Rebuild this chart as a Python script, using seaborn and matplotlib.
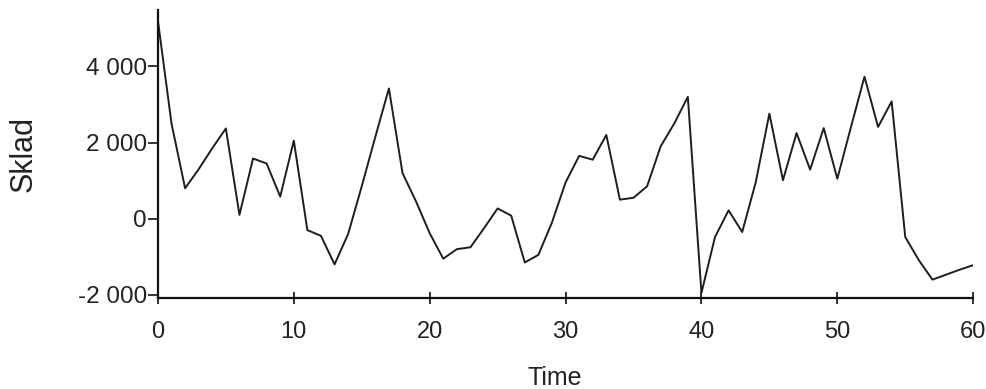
import numpy as np
import pandas as pd
import matplotlib
matplotlib.use("Agg")
import matplotlib.pyplot as plt
import seaborn as sns

# ---- data ----
time = list(range(0, 61))
sklad = [5200, 2500, 800, 1300, 1850, 2370, 100, 1580, 1450, 580,
         2050, -300, -450, -1200, -400, 850, 2150, 3420, 1200, 450,
         -380, -1050, -800, -750, -250, 270, 80, -1150, -950, -100,
         950, 1650, 1550, 2200, 500, 550, 850, 1900, 2500, 3200,
         -1950, -480, 220, -350, 960, 2760, 1010, 2250, 1290, 2380,
         1050, 2400, 3730, 2410, 3080, -480, -1090, -1600, -1470, -1340,
         -1220]
x_ticks = [0, 10, 20, 30, 40, 50, 60]
y_ticks = [-2000, 0, 2000, 4000]
y_tick_labels = ["-2 000", "0", "2 000", "4 000"]
x_label = "Time"
y_label = "Sklad"

df = pd.DataFrame({"Time": time, "Sklad": sklad})

sns.set_theme(style="ticks")
plt.rcParams["font.family"] = ["Liberation Sans", "DejaVu Sans"]

fig = plt.figure(figsize=(9.87, 3.89), dpi=100)
ax = fig.add_axes([0.160, 0.2332, 0.826, 0.741])

sns.lineplot(data=df, x="Time", y="Sklad", ax=ax, color="#1e1e1e",
             linewidth=1.4)

ax.set_xlim(0, 60)
ax.set_ylim(-2090, 5480)
ax.set_xticks(x_ticks)
ax.set_xticklabels([str(t) for t in x_ticks])
ax.set_yticks(y_ticks)
ax.set_yticklabels(y_tick_labels)

for side in ["top", "right"]:
    ax.spines[side].set_visible(False)
for side in ["left", "bottom"]:
    ax.spines[side].set_color("#111111")
    ax.spines[side].set_linewidth(1.6)

ax.tick_params(axis="x", bottom=True, direction="inout", length=9, width=1.2,
               color="#111111", labelsize=17, pad=12, labelcolor="#222222")
ax.tick_params(axis="y", left=True, direction="out", length=7, width=1.2,
               color="#111111", labelsize=17.5, pad=1.0, labelcolor="#222222")

ax.set_xlabel(x_label, fontsize=18, color="#222222")
ax.xaxis.set_label_coords(0.487, -0.235)
ax.set_ylabel(y_label, fontsize=22, color="#222222")
ax.yaxis.set_label_coords(-0.146, 0.5)

fig.savefig("out.png", dpi=100, facecolor="white")
